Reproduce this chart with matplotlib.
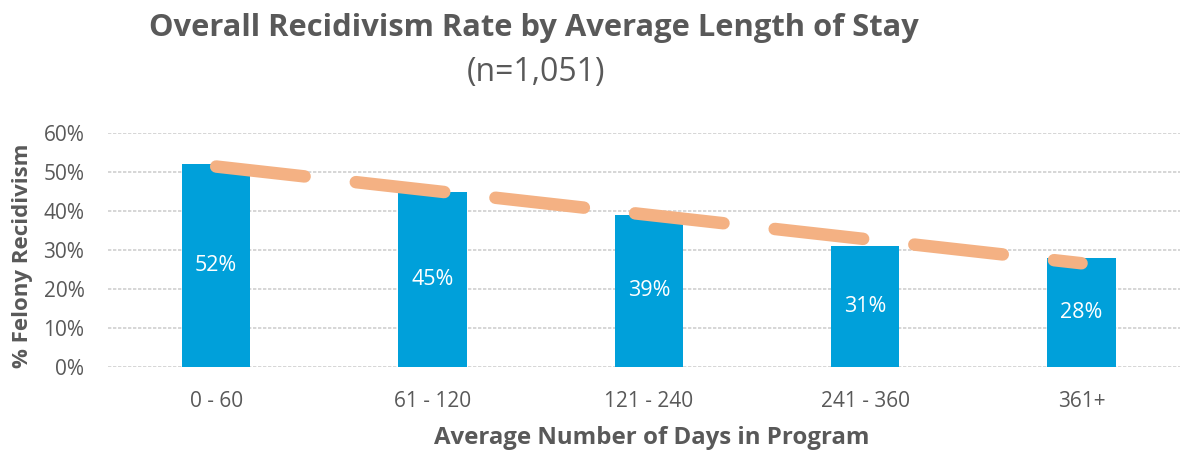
import matplotlib
matplotlib.use("Agg")
import matplotlib.pyplot as plt
import numpy as np
from matplotlib.ticker import PercentFormatter

categories = ["0 - 60", "61 - 120", "121 - 240", "241 - 360", "361+"]
values = [52, 45, 39, 31, 28]
yticks = [0, 10, 20, 30, 40, 50, 60]

plt.rcParams['font.family'] = ['Open Sans', 'DejaVu Sans']
gray = "#595959"

fig = plt.figure(figsize=(11.82, 4.54), dpi=100)
ax = fig.add_axes([108/1182, 87/454, 1072/1182, 234/454])

x = np.arange(len(categories))
ax.bar(x, values, width=0.315, color="#00A0DA", zorder=2)
for xi, v in zip(x, values):
    ax.text(xi, v/2, f"{v}%", ha="center", va="center", color="white", fontsize=15.5, zorder=4)

coef = np.polyfit(x, values, 1)
tx = np.array([x[0], x[-1]])
ax.plot(tx, np.polyval(coef, tx), color="#F4B183", lw=9, solid_capstyle="round",
        dash_capstyle="round", linestyle=(0, (7.12, 4.12)), zorder=3)

ax.set_xlim(-0.5, 4.455)
ax.set_ylim(0, 60)
ax.set_yticks(yticks)
ax.yaxis.set_major_formatter(PercentFormatter(decimals=0))
ax.set_xticks(x)
ax.set_xticklabels(categories)
ax.grid(axis="y", color="#D0D0D0", linestyle=(0, (2, 1)), lw=1.2, zorder=0)
for s in ax.spines.values():
    s.set_visible(False)
ax.tick_params(axis="both", length=0, colors=gray, labelsize=15)
ax.tick_params(axis="y", pad=17)
ax.tick_params(axis="x", pad=17)

ax.set_xlabel("Average Number of Days in Program", fontsize=17.3, fontweight="bold", color=gray, va="center")
ax.xaxis.set_label_coords((652 - 108) / 1072, -(438 - 367) / 234)
ax.set_ylabel("% Felony Recidivism", fontsize=16, fontweight="bold", color=gray, va="center")
ax.yaxis.set_label_coords(-(108 - 23) / 1072, (367 - 256) / 234)

fig.text(534/1182, 1 - 28/454, "Overall Recidivism Rate by Average Length of Stay", ha="center", va="center",
         fontsize=22.2, fontweight="bold", color=gray)
fig.text(536/1182, 1 - 72/454, "(n=1,051)", ha="center", va="center", fontsize=23, color=gray)

fig.savefig("out.png", dpi=100)
